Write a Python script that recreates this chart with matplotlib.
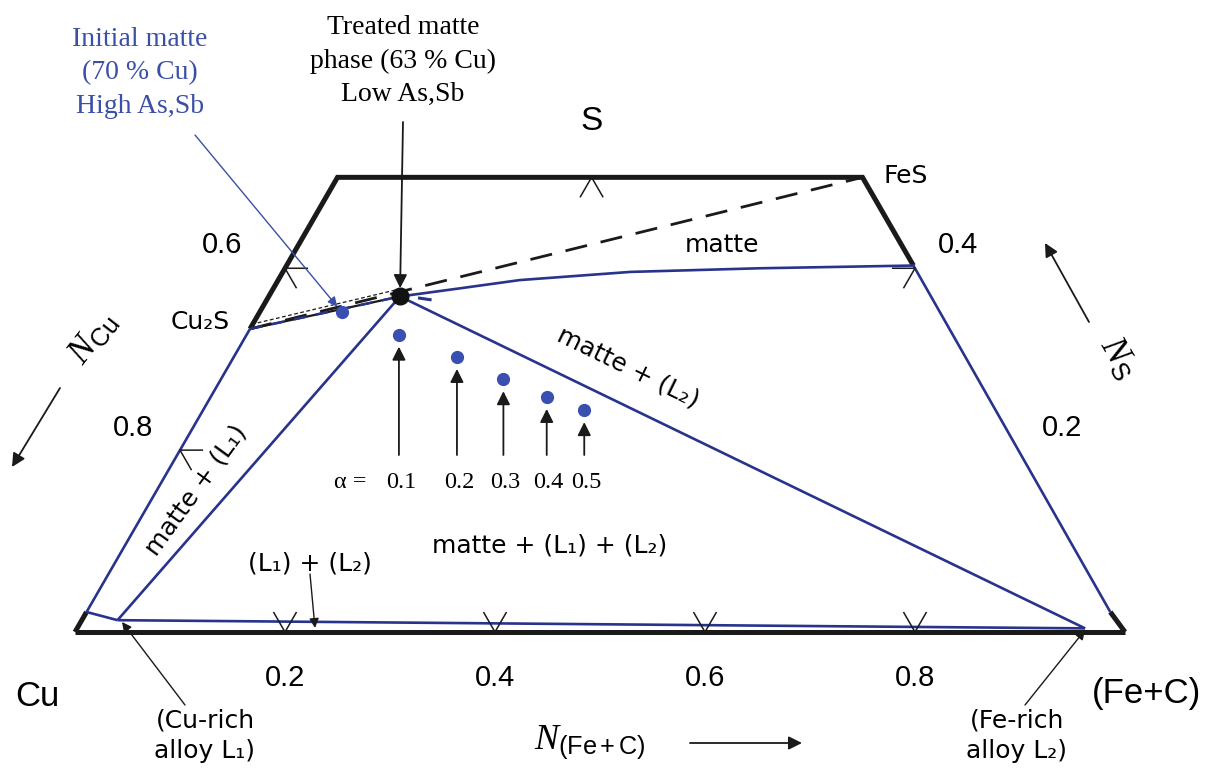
import numpy as np
import matplotlib
matplotlib.use("Agg")
import matplotlib.pyplot as plt
from matplotlib.transforms import Affine2D

plt.rcParams['mathtext.fontset'] = 'custom'
plt.rcParams['mathtext.it'] = 'Liberation Serif:italic'
plt.rcParams['mathtext.rm'] = 'Liberation Sans'

# compositions as (N_Fe+C, N_S); N_Cu is the rest
cu2s = (0.0, 1 / 3)
fes = (0.5, 0.5)
treated = (0.125, 0.369)
initial = (0.078, 0.352)
L1 = (0.034, 0.013)
L2 = (0.960, 0.004)
left_gap = (0.0, 0.022)
right_gap = (0.975, 0.022)

matte_fe = [0.125, 0.178, 0.230, 0.331, 0.452, 0.597]
matte_s = [0.369, 0.378, 0.387, 0.396, 0.400, 0.403]

alpha = [0.1, 0.2, 0.3, 0.4, 0.5]
alpha_fe = [0.145, 0.2125, 0.269, 0.320, 0.363]
alpha_s = [0.327, 0.3025, 0.278, 0.2585, 0.244]

bottom_ticks = [0.2, 0.4, 0.6, 0.8]
left_ticks = [0.4, 0.2]       # N_S where N_Cu = 0.6, 0.8
right_ticks = [0.4]
top_ticks = [0.242]

navy = '#28338c'
dot_blue = '#3a50b0'
text_blue = '#3b4fa6'
comic = 'DejaVu Sans'
sans = 'Liberation Sans'
serif = 'Liberation Serif'

W, H = 1208, 772
fig = plt.figure(figsize=(W / 100, H / 100), dpi=100)
ax = fig.add_axes([0, 0, 1, 1])
ax.set_xlim(-75 / 1050, (W - 75) / 1050)
ax.set_ylim((632 - H) / 1050, 632 / 1050)
ax.axis('off')

# ternary -> cartesian
tern_aff = Affine2D().from_values(1, 0, 0.5, np.sqrt(3) / 2, 0, 0)
tern = tern_aff + ax.transData
# pixel coordinates (top-left origin) for labels
px = Affine2D().scale(1 / W, -1 / H).translate(0, 1) + fig.transFigure


def seg(pts, **kw):
    xs, ys = zip(*pts)
    ax.plot(xs, ys, transform=tern, solid_capstyle='butt', **kw)


# frame
thick = dict(color='#1a1a1a', lw=3.6)
seg([(0, 0), (1, 0)], **thick)
seg([(0, 0), left_gap], **thick)
seg([cu2s, (0, 0.5), fes, (matte_fe[-1], matte_s[-1])], solid_joinstyle='miter', **thick)
seg([right_gap, (1, 0)], **thick)

# phase boundaries
blue = dict(color=navy, lw=1.9)
seg([left_gap, cu2s], **blue)
seg([(matte_fe[-1], matte_s[-1]), right_gap], **blue)
seg([left_gap, L1], **blue)
seg([L1, L2], **blue)
seg([L1, treated], **blue)
seg([treated, L2], **blue)
ax.plot(matte_fe, matte_s, transform=tern, **blue)

# tie lines around Cu2S
seg([cu2s, fes], color='#1a1a1a', lw=2.0, dashes=(8, 5))
seg([cu2s, treated], color='#1a1a1a', lw=1.6)
seg([cu2s, treated], color=navy, lw=1.8, dashes=(5, 4))
seg([(0.004, 0.340), (treated[0] - 0.005, treated[1] + 0.008)], color='#1a1a1a', lw=0.9, dashes=(3, 2))
seg([(0.143, 0.3674), (0.157, 0.3652)], color=navy, lw=2.2)

# ternary tick marks
d = 0.022
tk = dict(color='#1a1a1a', lw=1.1)
for f in bottom_ticks:
    seg([(f - d, d), (f, 0), (f, d)], **tk)
for s in left_ticks:
    seg([(d, s), (0, s), (d, s - d)], **tk)
for s in right_ticks:
    seg([(1 - s - d, s), (1 - s, s), (1 - s, s - d)], **tk)
for f in top_ticks:
    seg([(f, 0.5 - d), (f, 0.5), (f + d, 0.5 - d)], **tk)

# points
ax.plot(alpha_fe, alpha_s, 'o', ms=8.5, color=dot_blue, transform=tern, zorder=5)
ax.plot(*initial, 'o', ms=8.5, color=dot_blue, transform=tern, zorder=5)
ax.plot(*treated, 'o', ms=12, color='#111111', transform=tern, zorder=6)

arrow = dict(arrowstyle='-|>', color='#1a1a1a', lw=1.3, mutation_scale=20, shrinkA=0, shrinkB=0)

# alpha arrows and labels
for a, f, s in zip(alpha, alpha_fe, alpha_s):
    x, y = tern_aff.transform((f, s))
    xp = 75 + 1050 * x
    yp = 632 - 1050 * y
    ax.annotate('', xy=(xp, yp + 12), xycoords=px, xytext=(xp, 455), textcoords=px, arrowprops=arrow)
    ax.text(xp + 2, 482, f'{a:.1f}', transform=px, fontsize=17.5, family=serif, ha='center', va='center')
ax.text(350, 482, 'α =', transform=px, fontsize=17.5, family=serif, ha='center', va='center')

# annotations
ax.text(140, 73, 'Initial matte\n(70 % Cu)\nHigh As,Sb', transform=px, fontsize=20, family=serif,
        color=text_blue, ha='center', va='center', linespacing=1.45)
ax.annotate('', xy=initial, xycoords=tern, xytext=(195, 135), textcoords=px,
            arrowprops=dict(arrowstyle='-|>', color=text_blue, lw=1.0, mutation_scale=14, shrinkA=0, shrinkB=5))
ax.text(403, 61, 'Treated matte\nphase (63 % Cu)\nLow As,Sb', transform=px, fontsize=20, family=serif,
        ha='center', va='center', linespacing=1.45)
ax.annotate('', xy=treated, xycoords=tern, xytext=(403, 122), textcoords=px,
            arrowprops=dict(arrow, shrinkB=6))

ax.text(592, 122, 'S', transform=px, fontsize=24, family=sans, ha='center', va='center')
ax.text(906, 176, 'FeS', transform=px, fontsize=18, family=comic, ha='center', va='center')
ax.text(722, 245, 'matte', transform=px, fontsize=18, family=comic, ha='center', va='center')
ax.text(200, 322, 'Cu₂S', transform=px, fontsize=18, family=comic, ha='center', va='center')
ax.text(628, 368, 'matte + (L₂)', transform=px, fontsize=18, family=comic, ha='center', va='center',
        rotation=-26)
ax.text(196, 490, 'matte + (L₁)', transform=px, fontsize=18, family=comic, ha='center', va='center',
        rotation=54)
ax.text(550, 545, 'matte + (L₁) + (L₂)', transform=px, fontsize=18, family=comic, ha='center', va='center')
ax.text(310, 563, '(L₁) + (L₂)', transform=px, fontsize=18, family=comic, ha='center', va='center')
ax.annotate('', xy=(315, 628), xycoords=px, xytext=(310, 574), textcoords=px,
            arrowprops=dict(arrow, lw=1.0, mutation_scale=14))

ax.text(205, 736, '(Cu-rich\nalloy L₁)', transform=px, fontsize=18, family=comic, ha='center', va='center',
        linespacing=1.35)
ax.annotate('', xy=(122, 622), xycoords=px, xytext=(185, 705), textcoords=px,
            arrowprops=dict(arrow, lw=1.0, mutation_scale=14))
ax.text(1017, 736, '(Fe-rich\nalloy L₂)', transform=px, fontsize=18, family=comic, ha='center', va='center',
        linespacing=1.35)
ax.annotate('', xy=(1085, 630), xycoords=px, xytext=(1025, 705), textcoords=px,
            arrowprops=dict(arrow, lw=1.0, mutation_scale=14))

# tick labels
for f in bottom_ticks:
    ax.text(75 + 1050 * f, 678, f'{f:.1f}', transform=px, fontsize=21, family=sans, ha='center', va='center')
ax.text(222, 245, '0.6', transform=px, fontsize=21, family=sans, ha='center', va='center')
ax.text(133, 428, '0.8', transform=px, fontsize=21, family=sans, ha='center', va='center')
ax.text(958, 245, '0.4', transform=px, fontsize=21, family=sans, ha='center', va='center')
ax.text(1062, 428, '0.2', transform=px, fontsize=21, family=sans, ha='center', va='center')
ax.text(37, 697, 'Cu', transform=px, fontsize=25, family=sans, ha='center', va='center')
ax.text(1146, 693, '(Fe+C)', transform=px, fontsize=25, family=sans, ha='center', va='center')

# axis names
ax.text(590, 742, r'$N_{\mathrm{(Fe+C)}}$', transform=px, fontsize=26, ha='center', va='center')
ax.annotate('', xy=(802, 743), xycoords=px, xytext=(690, 743), textcoords=px, arrowprops=arrow)
ax.text(93, 338, r'$N_{\mathrm{Cu}}$', transform=px, fontsize=26, ha='center', va='center', rotation=52)
ax.annotate('', xy=(12, 467), xycoords=px, xytext=(60, 388), textcoords=px, arrowprops=arrow)
ax.text(1118, 358, r'$N_{\mathrm{S}}$', transform=px, fontsize=26, ha='center', va='center', rotation=-60)
ax.annotate('', xy=(1045, 243), xycoords=px, xytext=(1089, 322), textcoords=px, arrowprops=arrow)

fig.savefig('out.png', dpi=100)
